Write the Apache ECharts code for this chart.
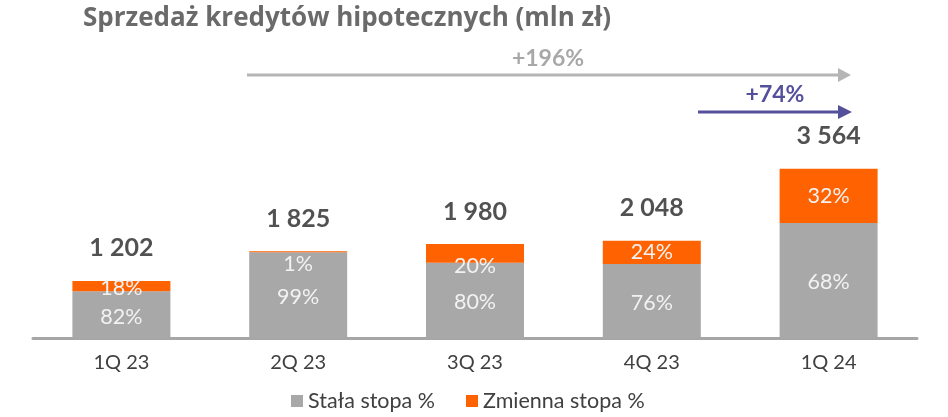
<!DOCTYPE html>
<html>
<head>
<meta charset="utf-8">
<script src="https://cdn.jsdelivr.net/npm/echarts@6/dist/echarts.min.js"></script>
<style>
  html, body { margin: 0; padding: 0; background: #fff; }
  #chart { width: 948px; height: 417px; }
</style>
</head>
<body>
<div id="chart"></div>
<script>
var categories = ['1Q 23', '2Q 23', '3Q 23', '4Q 23', '1Q 24'];
var totals = [1202, 1825, 1980, 2048, 3564];
var fixedPct = [82, 99, 80, 76, 68];
var variablePct = [18, 1, 20, 24, 32];
var seriesNames = ['Stała stopa %', 'Zmienna stopa %'];

var FONT = 'Lato, "Open Sans", sans-serif';

// label nudges for the small orange segments (by category index)
var variableLabelShift = { 0: 2, 1: 12, 2: 13 };

function fmtThousands(v) {
    return String(v).replace(/\B(?=(\d{3})+(?!\d))/g, ' ');
}

var fixedData = totals.map(function (t, i) {
    return { value: t * fixedPct[i] / 100, pct: fixedPct[i] };
});
var variableData = totals.map(function (t, i) {
    return {
        value: t * variablePct[i] / 100,
        pct: variablePct[i],
        label: { offset: [0, variableLabelShift[i] || 0] }
    };
});

var chart = echarts.init(document.getElementById('chart'));

var insideLabel = {
    show: true,
    position: 'inside',
    offset: [0, 2],
    color: '#f2f2f2',
    fontSize: 21.5,
    fontFamily: FONT,
    formatter: function (p) { return p.data.pct + '%'; }
};

var option = {
    animation: false,
    title: {
        text: 'Sprzedaż kredytów hipotecznych (mln zł)',
        left: 78,
        top: 1,
        textStyle: { fontSize: 26, fontWeight: 'bold', color: '#6a6a6a', fontFamily: '"Open Sans", Lato, sans-serif' }
    },
    legend: {
        left: 286,
        top: 385,
        itemWidth: 12,
        itemHeight: 12,
        itemGap: 31,
        icon: 'rect',
        textStyle: { fontSize: 21.5, color: '#404040', fontFamily: FONT },
        data: seriesNames
    },
    grid: { left: 33, right: 31, top: 148, bottom: 79 },
    xAxis: {
        type: 'category',
        data: categories,
        axisLine: { lineStyle: { color: '#a6a6a6', width: 3 } },
        axisTick: { show: false },
        axisLabel: { margin: 15, fontSize: 20, color: '#404040', fontFamily: FONT }
    },
    yAxis: {
        type: 'value',
        min: 0,
        max: 4000,
        show: false,
        splitLine: { show: false }
    },
    series: [
        {
            name: seriesNames[0],
            type: 'bar',
            stack: 'sum',
            barWidth: 98,
            itemStyle: { color: '#a8a8a8' },
            label: insideLabel,
            data: fixedData
        },
        {
            name: seriesNames[1],
            type: 'bar',
            stack: 'sum',
            barWidth: 98,
            itemStyle: { color: '#ff6200' },
            label: insideLabel,
            data: variableData
        },
        {
            name: 'total',
            type: 'scatter',
            symbolSize: 0,
            silent: true,
            label: {
                show: true,
                position: 'top',
                distance: 20,
                color: '#262626',
                fontSize: 25,
                fontWeight: 'bold',
                fontFamily: FONT,
                formatter: function (p) { return fmtThousands(p.value); }
            },
            data: totals
        }
    ],
    graphic: [
        { type: 'line', shape: { x1: 247, y1: 75, x2: 840, y2: 75 }, style: { stroke: '#b5b5b5', lineWidth: 3 } },
        { type: 'polygon', shape: { points: [[838, 68], [851, 75], [838, 82]] }, style: { fill: '#b5b5b5' } },
        { type: 'text', x: 548, y: 59, style: { text: '+196%', fill: '#a8a8a8', fontSize: 23, fontWeight: 'bold', fontFamily: FONT, align: 'center', verticalAlign: 'middle' } },
        { type: 'line', shape: { x1: 698, y1: 112, x2: 840, y2: 112 }, style: { stroke: '#55509c', lineWidth: 3 } },
        { type: 'polygon', shape: { points: [[838, 105], [852, 112], [838, 119]] }, style: { fill: '#55509c' } },
        { type: 'text', x: 775, y: 95, style: { text: '+74%', fill: '#55509c', fontSize: 23, fontWeight: 'bold', fontFamily: FONT, align: 'center', verticalAlign: 'middle' } }
    ]
};

chart.setOption(option);
</script>
</body>
</html>
